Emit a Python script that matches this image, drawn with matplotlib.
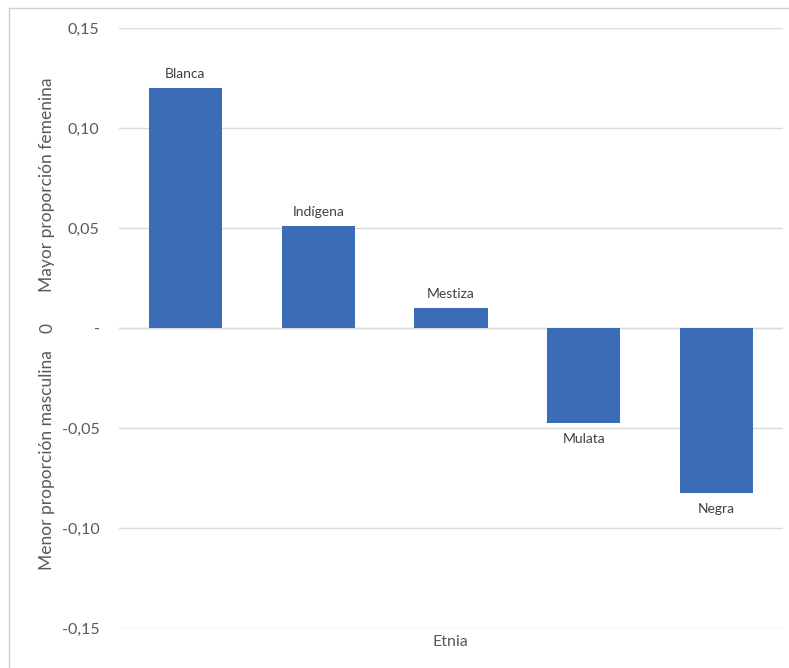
import matplotlib
matplotlib.use("Agg")
import matplotlib.pyplot as plt
from matplotlib.lines import Line2D

# Diferencia de proporción por etnia
etnias = ["Blanca", "Indígena", "Mestiza", "Mulata", "Negra"]
valores = [0.120, 0.051, 0.010, -0.0475, -0.0825]
ticks = [-0.15, -0.10, -0.05, 0.0, 0.05, 0.10, 0.15]
tick_labels = ["-0,15", "-0,10", "-0,05", "-", "0,05", "0,10", "0,15"]

plt.rcParams["font.family"] = ["Lato", "DejaVu Sans"]
gris = "#595959"
azul = "#3A6DB5"

W, H = 789, 668
fig = plt.figure(figsize=(W / 100, H / 100), dpi=100)
ax = fig.add_axes([119 / W, 40 / H, (783 - 119) / W, (628 - 28) / H])

x = list(range(len(etnias)))
ax.bar(x, valores, width=0.55, color=azul, zorder=3)
ax.set_xlim(-0.5, len(etnias) - 0.5)
ax.set_ylim(-0.15, 0.15)
ax.set_yticks(ticks)
ax.set_yticklabels(tick_labels, fontsize=11.5, color=gris)
ax.tick_params(axis="y", length=0, pad=14)
ax.set_xticks([])
ax.grid(axis="y", color="#dadada", linewidth=1, zorder=0)
for s in ax.spines.values():
    s.set_visible(False)
ax.axhline(0, color="#dadada", linewidth=1, zorder=1)

# Etiquetas de categoría junto a cada barra
for xi, v, nombre in zip(x, valores, etnias):
    if v >= 0:
        ax.annotate(nombre, (xi, v), xytext=(0, 6), textcoords="offset points",
                    ha="center", va="bottom", fontsize=10, color="#404040")
    else:
        ax.annotate(nombre, (xi, v), xytext=(0, -7), textcoords="offset points",
                    ha="center", va="top", fontsize=10, color="#404040")

# Título del eje vertical en dos partes
ytr = ax.get_yaxis_transform()
ax.text(-0.108, 0.0715, "Mayor proporción femenina", transform=ytr,
        rotation=90, ha="center", va="center", fontsize=12.5, color=gris)
ax.text(-0.108, 0.0, "0", transform=ytr,
        rotation=90, ha="center", va="center", fontsize=12.5, color=gris)
ax.text(-0.108, -0.066, "Menor proporción masculina", transform=ytr,
        rotation=90, ha="center", va="center", fontsize=12.5, color=gris)

fig.text(450 / W, 1 - 642 / H, "Etnia", ha="center", va="center", fontsize=11.5, color=gris)

# Marco del gráfico
fig.add_artist(Line2D([9 / W, 9 / W], [0, 1 - 8 / H], transform=fig.transFigure,
                      color="#d0d0d0", linewidth=1))
fig.add_artist(Line2D([9 / W, 1], [1 - 8 / H, 1 - 8 / H], transform=fig.transFigure,
                      color="#d0d0d0", linewidth=1))

fig.savefig("out.png", dpi=100)
